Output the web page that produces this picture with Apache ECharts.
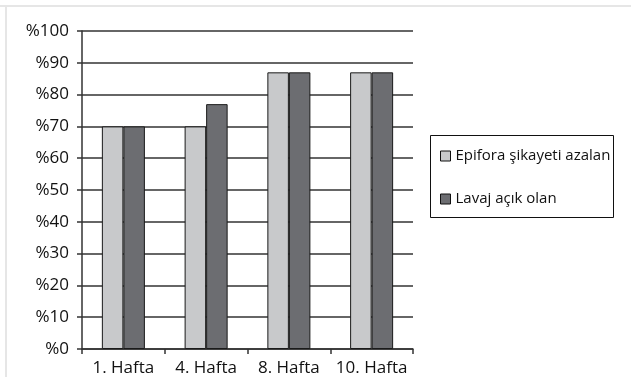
<!DOCTYPE html>
<html>
<head>
<meta charset="utf-8">
<script src="https://cdn.jsdelivr.net/npm/echarts@6/dist/echarts.min.js"></script>
<style>
  html, body { margin: 0; padding: 0; background: #fff; }
  #chart { width: 631px; height: 377px; }
</style>
</head>
<body>
<div id="chart"></div>
<script>
// Weekly outcome percentages
const weeks = ['1. Hafta', '4. Hafta', '8. Hafta', '10. Hafta'];
const epiforaAzalan = [70, 70, 87, 87];
const lavajAcik = [70, 77, 87, 87];
const seriesNames = ['Epifora şikayeti azalan', 'Lavaj açık olan'];

const FONT = '"Open Sans", "Noto Sans", sans-serif';
const chart = echarts.init(document.getElementById('chart'), null, { renderer: 'canvas' });

chart.setOption({
  animation: false,
  backgroundColor: '#fff',
  grid: { left: 82, top: 31, width: 331, height: 320, containLabel: false },
  graphic: [
    // light frame along top and left
    { type: 'rect', shape: { x: 0, y: 5, width: 631, height: 2 }, style: { fill: '#e6e6e6' }, silent: true },
    { type: 'rect', shape: { x: 5, y: 5, width: 2, height: 372 }, style: { fill: '#e6e6e6' }, silent: true },
    // legend box
    { type: 'rect', shape: { x: 430.5, y: 135.5, width: 183, height: 82 },
      style: { fill: '#fff', stroke: '#111', lineWidth: 1 }, z: 0, silent: true }
  ],
  legend: {
    orient: 'vertical',
    left: 435,
    top: 142,
    icon: 'rect',
    itemWidth: 10,
    itemHeight: 10,
    itemGap: 25,
    itemStyle: { borderColor: '#111', borderWidth: 1 },
    textStyle: { fontFamily: FONT, fontSize: 15, color: '#111', lineHeight: 18 },
    data: seriesNames,
    z: 5
  },
  xAxis: {
    type: 'category',
    data: weeks,
    axisLine: { lineStyle: { color: '#333', width: 1.5 } },
    axisTick: { show: true, length: 5, alignWithLabel: false, interval: 0, lineStyle: { color: '#333', width: 1.5 } },
    axisLabel: { fontFamily: FONT, fontSize: 17, color: '#111', margin: 11, interval: 0 },
    splitLine: { show: false }
  },
  yAxis: {
    type: 'value',
    min: 0,
    max: 100,
    interval: 10,
    axisLine: { show: true, lineStyle: { color: '#333', width: 1.5 } },
    axisTick: { show: true, length: 5, lineStyle: { color: '#333', width: 1.5 } },
    axisLabel: { fontFamily: FONT, fontSize: 17, color: '#111', margin: 13, formatter: v => '%' + v },
    splitLine: { show: true, lineStyle: { color: '#333', width: 1.5 } }
  },
  series: [
    {
      name: seriesNames[0],
      type: 'bar',
      data: epiforaAzalan,
      barGap: '0%',
      barCategoryGap: '48%',
      itemStyle: { color: '#c8c9cb', borderColor: '#1a1a1a', borderWidth: 1 }
    },
    {
      name: seriesNames[1],
      type: 'bar',
      data: lavajAcik,
      barGap: '0%',
      barCategoryGap: '48%',
      itemStyle: { color: '#6c6d71', borderColor: '#1a1a1a', borderWidth: 1 }
    }
  ]
});
</script>
</body>
</html>
